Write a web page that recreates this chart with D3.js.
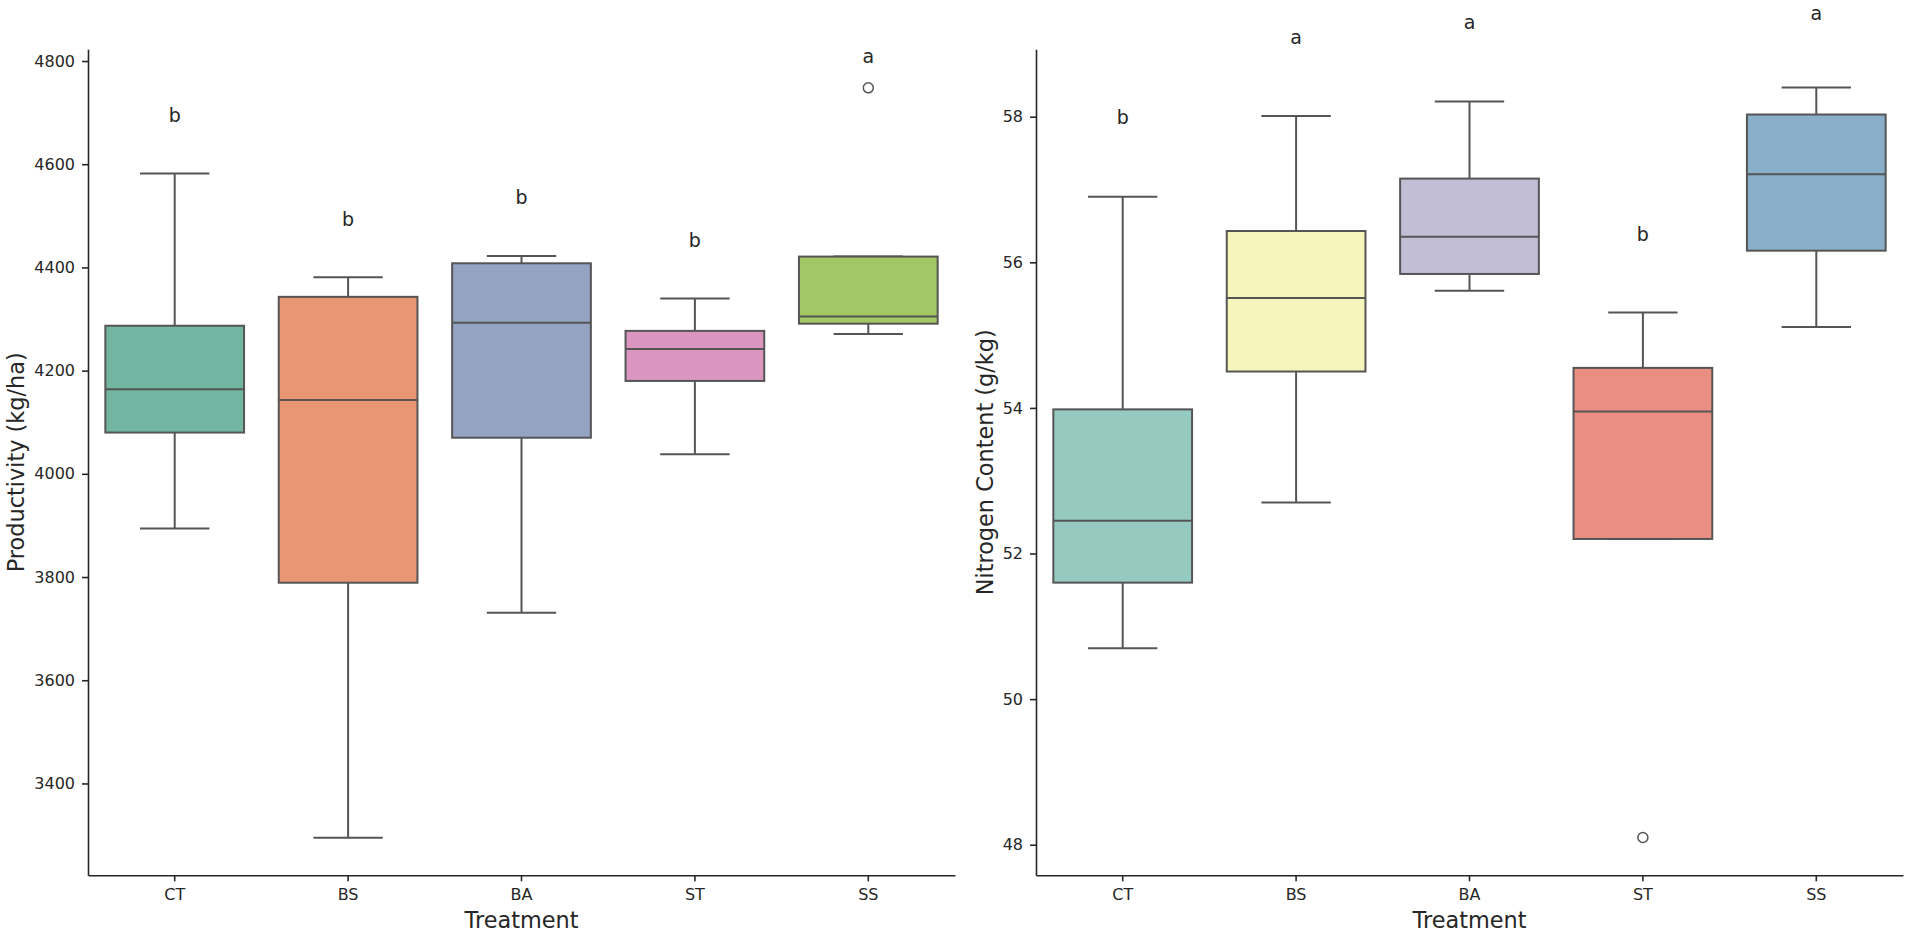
<!DOCTYPE html>
<html>
<head>
<meta charset="utf-8">
<script src="https://cdn.jsdelivr.net/npm/d3@7"></script>
<style>
  body { margin: 0; background: #fff; }
  svg { display: block; }
  text { font-family: "DejaVu Sans", sans-serif; fill: #262626; }
</style>
</head>
<body>
<div id="chart"></div>
<script>
// categories
const treatments = ["CT", "BS", "BA", "ST", "SS"];

// productivity (kg/ha) box stats
const prodLowWhisker = [3894, 3295, 3731, 4038, 4271];
const prodQ1 = [4080, 3789, 4070, 4180, 4291];
const prodMedian = [4164, 4143, 4293, 4242, 4305];
const prodQ3 = [4287, 4343, 4408, 4277, 4421];
const prodHighWhisker = [4582, 4381, 4422, 4340, 4421];
const prodOutliers = [[], [], [], [], [4748]];
const prodLetters = ["b", "b", "b", "b", "a"];
const prodLetterY = [4694, 4493, 4535, 4452, 4810];
const prodTicks = [3400, 3600, 3800, 4000, 4200, 4400, 4600, 4800];

// nitrogen content (g/kg)
const nitLowWhisker = [50.7, 52.7, 55.61, 52.2, 55.11];
const nitQ1 = [51.6, 54.5, 55.84, 52.2, 56.16];
const nitMedian = [52.45, 55.51, 56.35, 53.95, 57.21];
const nitQ3 = [53.98, 56.43, 57.15, 54.55, 58.03];
const nitHighWhisker = [56.9, 58.01, 58.21, 55.31, 58.40];
const nitOutliers = [[], [], [], [48.1], []];
const nitLetters = ["b", "a", "a", "b", "a"];
const nitLetterY = [57.99, 59.09, 59.30, 56.38, 59.42];
const nitTicks = [48, 50, 52, 54, 56, 58];

// seaborn palettes (Set2 / Set3)
const set2 = ["#66c2a5", "#fc8d62", "#8da0cb", "#e78ac3", "#a6d854"];
const set3 = ["#8dd3c7", "#ffffb3", "#bebada", "#fb8072", "#80b1d3"];

const W = 1907, H = 932;
const plotTop = 49.3, plotBottom = 875.3;
const lineCol = "#555555";

let svg = d3.select("#chart").append("svg")
  .attr("width", W)
  .attr("height", H);

// seaborn desaturates box colours to 0.75
function desat(c) {
  let h = d3.hsl(c);
  h.s = h.s * 0.75;
  return h.formatHex();
}

function drawPanel(p) {
  let x = d3.scaleBand()
    .domain(treatments)
    .range([p.left, p.right])
    .paddingInner(0)
    .paddingOuter(0);
  let y = d3.scaleLinear()
    .domain(p.domain)
    .range([plotBottom, plotTop]);

  let g = svg.append("g");

  // y axis
  let ya = g.append("g")
    .attr("transform", "translate(" + p.left + ",0)")
    .call(d3.axisLeft(y).tickValues(p.ticks).tickFormat(d3.format("d"))
      .tickSize(6).tickPadding(7).tickSizeOuter(0));
  // x axis
  let xa = g.append("g")
    .attr("transform", "translate(0," + plotBottom + ")")
    .call(d3.axisBottom(x).tickSize(6).tickPadding(7).tickSizeOuter(0));

  [ya, xa].forEach(a => {
    a.selectAll("path, line").attr("stroke", "#262626").attr("stroke-width", 1.6);
    a.selectAll("text").attr("font-size", 16).attr("fill", "#1a1a1a")
      .style("font-family", "DejaVu Sans");
  });

  let bw = x.bandwidth() * 0.8;
  let cap = bw / 2;

  let data = treatments.map((t, i) => ({
    t: t, i: i,
    lo: p.lo[i], q1: p.q1[i], med: p.med[i], q3: p.q3[i], hi: p.hi[i],
    out: p.out[i], col: desat(p.colors[i]),
    letter: p.letters[i], ly: p.letterY[i]
  }));

  let box = g.selectAll(".box")
    .data(data)
    .enter().append("g")
      .attr("class", "box");

  let cx = d => x(d.t) + x.bandwidth() / 2;

  // whiskers
  box.append("line")
    .attr("x1", cx).attr("x2", cx)
    .attr("y1", d => y(d.q3)).attr("y2", d => y(d.hi));
  box.append("line")
    .attr("x1", cx).attr("x2", cx)
    .attr("y1", d => y(d.q1)).attr("y2", d => y(d.lo));
  box.append("line")
    .attr("x1", d => cx(d) - cap / 2).attr("x2", d => cx(d) + cap / 2)
    .attr("y1", d => y(d.hi)).attr("y2", d => y(d.hi));
  box.append("line")
    .attr("x1", d => cx(d) - cap / 2).attr("x2", d => cx(d) + cap / 2)
    .attr("y1", d => y(d.lo)).attr("y2", d => y(d.lo));

  // box
  box.append("rect")
    .attr("x", d => cx(d) - bw / 2)
    .attr("width", bw)
    .attr("y", d => y(d.q3))
    .attr("height", d => y(d.q1) - y(d.q3))
    .attr("fill", d => d.col);

  // median
  box.append("line")
    .attr("x1", d => cx(d) - bw / 2).attr("x2", d => cx(d) + bw / 2)
    .attr("y1", d => y(d.med)).attr("y2", d => y(d.med));

  box.selectAll("line, rect")
    .attr("stroke", lineCol)
    .attr("stroke-width", 2);

  // outliers
  box.selectAll(".flier")
    .data(d => d.out.map(v => ({ v: v, d: d })))
    .enter().append("circle")
      .attr("class", "flier")
      .attr("cx", o => cx(o.d))
      .attr("cy", o => y(o.v))
      .attr("r", 5)
      .attr("fill", "none")
      .attr("stroke", lineCol)
      .attr("stroke-width", 1.5);

  // significance letters
  box.append("text")
    .attr("x", cx)
    .attr("y", d => y(d.ly))
    .attr("dy", "0.35em")
    .attr("text-anchor", "middle")
    .attr("font-size", 19)
    .attr("fill", "#000")
    .text(d => d.letter);

  // axis titles
  g.append("text")
    .attr("x", (p.left + p.right) / 2)
    .attr("y", 928)
    .attr("text-anchor", "middle")
    .attr("font-size", 22.4)
    .attr("fill", "#000")
    .text("Treatment");

  g.append("text")
    .attr("transform", "translate(" + p.labelX + "," + ((plotTop + plotBottom) / 2) + ") rotate(-90)")
    .attr("text-anchor", "middle")
    .attr("font-size", 22.4)
    .attr("fill", "#000")
    .text(p.ylabel);
}

drawPanel({
  left: 88, right: 955,
  domain: [3222, 4822.7],
  ticks: prodTicks,
  lo: prodLowWhisker, q1: prodQ1, med: prodMedian, q3: prodQ3, hi: prodHighWhisker,
  out: prodOutliers, colors: set2,
  letters: prodLetters, letterY: prodLetterY,
  ylabel: "Productivity (kg/ha)", labelX: 24
});

drawPanel({
  left: 1036, right: 1903,
  domain: [47.58, 58.926],
  ticks: nitTicks,
  lo: nitLowWhisker, q1: nitQ1, med: nitMedian, q3: nitQ3, hi: nitHighWhisker,
  out: nitOutliers, colors: set3,
  letters: nitLetters, letterY: nitLetterY,
  ylabel: "Nitrogen Content (g/kg)", labelX: 993
});
</script>
</body>
</html>
